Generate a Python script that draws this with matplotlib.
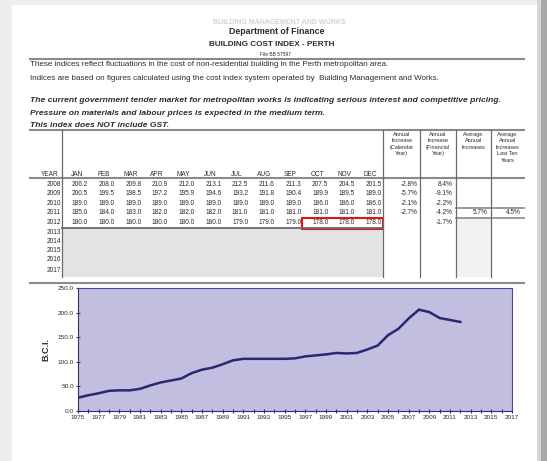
import matplotlib
matplotlib.use("Agg")
import matplotlib.pyplot as plt
from matplotlib.patches import Rectangle

plt.rcParams['font.family'] = ['Liberation Sans', 'DejaVu Sans']

# Data
months = ['JAN', 'FEB', 'MAR', 'APR', 'MAY', 'JUN', 'JUL', 'AUG', 'SEP', 'OCT', 'NOV', 'DEC']
years = [2008, 2009, 2010, 2011, 2012, 2013, 2014, 2015, 2016, 2017]
idx_2008 = [206.2, 208.0, 209.8, 210.9, 212.0, 213.1, 212.5, 211.6, 211.3, 207.5, 204.5, 201.5]
idx_2009 = [200.5, 199.5, 198.5, 197.2, 195.9, 194.6, 193.2, 191.8, 190.4, 189.9, 189.5, 189.0]
idx_2010 = [189.0, 189.0, 189.0, 189.0, 189.0, 189.0, 189.0, 189.0, 189.0, 186.0, 186.0, 186.0]
idx_2011 = [185.0, 184.0, 183.0, 182.0, 182.0, 182.0, 181.0, 181.0, 181.0, 181.0, 181.0, 181.0]
idx_2012 = [180.0, 180.0, 180.0, 180.0, 180.0, 180.0, 179.0, 179.0, 179.0, 178.0, 178.0, 178.0]
calendar_incr = ['-2.8%', '-5.7%', '-2.1%', '-2.7%']
financial_incr = ['8.4%', '-9.1%', '-2.2%', '-4.2%', '-1.7%']
avg_incr = '5.7%'
avg_last_ten = '4.5%'

bci_years = list(range(1975, 2013))
bci = [27, 32, 36, 41, 42, 42, 45, 52, 58, 62, 66, 77, 84, 88, 95, 103, 106, 106,
       106, 106, 106, 107, 111, 113, 115, 118, 117, 118, 125, 133, 154, 167, 188,
       206, 201, 189, 185, 181]

W, H = 547, 461
fig = plt.figure(figsize=(W / 100, H / 100), dpi=100, facecolor='#eeeeee')

# page layer in pixel coordinates
pg = fig.add_axes([0, 0, 1, 1])
pg.set_xlim(0, W)
pg.set_ylim(H, 0)
pg.axis('off')
pg.add_patch(Rectangle((12, 5), 526, 460, color='white', lw=0))
pg.add_patch(Rectangle((537, 0), 4, H, color='#d6d6d6', lw=0))
pg.add_patch(Rectangle((541, 0), 6, H, color='#a9a9a9', lw=0))

txt = '#2b2b2b'
grey = '#8a8a8a'

# header
pg.text(279, 22, 'BUILDING MANAGEMENT AND WORKS', ha='center', va='center',
        fontsize=5, fontweight='bold', color='#d2d2d2')
pg.text(277, 32, 'Department of Finance', ha='center', va='center',
        fontsize=6.3, fontweight='bold', color=txt)
pg.text(272, 45, 'BUILDING COST INDEX - PERTH', ha='center', va='center',
        fontsize=5.9, fontweight='bold', color=txt)
pg.text(276, 55, 'File BB 57597', ha='center', va='center', fontsize=3.5, color=txt)
pg.plot([30, 524], [59.5, 59.5], color=grey, lw=1.5)

pg.text(30, 65, 'These indices reflect fluctuations in the cost of non-residential '
        'building in the Perth metropolitan area.', va='center', fontsize=5.8, color=txt)
pg.text(30, 79, 'Indices are based on figures calculated using the cost index system '
        'operated by  Building Management and Works.', va='center', fontsize=5.8, color=txt)
bi = dict(va='center', fontsize=6.1, fontweight='bold', fontstyle='italic', color=txt)
pg.text(30, 100, 'The current government tender market for metropolitan works is '
        'indicating serious interest and competitive pricing.', **bi)
pg.text(30, 113, 'Pressure on materials and labour prices is expected in the medium term.', **bi)
pg.text(30, 125, 'This index does NOT include GST.', **bi)

# table
pg.add_patch(Rectangle((62, 228), 321, 49, color='#e3e3e3', lw=0))
pg.add_patch(Rectangle((456, 218), 35, 59, color='#f1f1f1', lw=0))
pg.plot([30, 524], [130, 130], color=grey, lw=1.5)
pg.plot([30, 524], [178.5, 178.5], color=grey, lw=1.5)
pg.plot([62, 383], [228, 228], color='#6a6a6a', lw=1.3)
pg.plot([456, 524], [208, 208], color=grey, lw=1.2)
pg.plot([456, 524], [218, 218], color=grey, lw=1.2)
pg.plot([30, 524], [283, 283], color=grey, lw=1.5)
for xv in [62, 383, 420, 456, 491]:
    pg.plot([xv, xv], [130, 277], color='#6a6a6a', lw=0.9)

tf = dict(fontsize=4.7, color=txt, va='center')
pg.text(50, 174, 'YEAR', ha='center', **tf)
col_right = [88 + 26.7 * i for i in range(12)]
for m, xr in zip(months, col_right):
    pg.text(xr - 11, 174, m, ha='center', **tf)

row_y = [184, 193, 203, 212, 222, 232, 241, 250, 259, 270]
for yr, yv in zip(years, row_y):
    pg.text(61, yv, str(yr), ha='right', **tf)
for vals, yv in zip([idx_2008, idx_2009, idx_2010, idx_2011, idx_2012], row_y):
    for v, xr in zip(vals, col_right):
        pg.text(xr, yv, f'{v:.1f}', ha='right', **tf)

pg.add_patch(Rectangle((302, 217.5), 81, 11, fill=False, ec='#e0141e', lw=1.5))

hf = dict(fontsize=4, color=txt, ha='center', va='top', linespacing=1.35)
pg.text(401.5, 132, 'Annual\nIncrease\n(Calendar\nYear)', **hf)
pg.text(438, 132, 'Annual\nIncrease\n(Financial\nYear)', **hf)
pg.text(473.5, 132, 'Average\nAnnual\nIncreases', **hf)
pg.text(507.5, 132, 'Average\nAnnual\nIncreases\nLast Ten\nYears', **hf)
for v, yv in zip(calendar_incr, row_y):
    pg.text(418, yv, v, ha='right', **tf)
for v, yv in zip(financial_incr, row_y):
    pg.text(453, yv, v, ha='right', **tf)
pg.text(488, 212, avg_incr, ha='right', **tf)
pg.text(521, 212, avg_last_ten, ha='right', **tf)

# chart
ax = fig.add_axes([78 / W, 1 - 411 / H, (512 - 78) / W, 123 / H])
ax.set_facecolor('#c2bee0')
ax.plot(bci_years, bci, color='#2a2870', lw=1.8)
ax.set_xlim(1975, 2017)
ax.set_ylim(0, 250)
ax.set_xticks(range(1975, 2018, 2))
ax.set_xticks(range(1975, 2018), minor=True)
ax.set_yticks(range(0, 251, 50))
ax.set_yticklabels([f'{v:.1f}' for v in range(0, 251, 50)])
ax.tick_params(axis='both', which='both', direction='inout', length=3,
               width=0.8, color='#2e2b7c', labelsize=4.6, labelcolor=txt, pad=1.5)
for s in ax.spines.values():
    s.set_color('#4a47a0')
    s.set_linewidth(0.8)
ax.spines['left'].set_color('#333366')
ax.spines['bottom'].set_color('#2e2b7c')
ax.set_ylabel('B.C.I.', fontsize=6.5, fontweight='bold', color=txt, labelpad=5)

fig.savefig('out.png', dpi=100, facecolor=fig.get_facecolor())
